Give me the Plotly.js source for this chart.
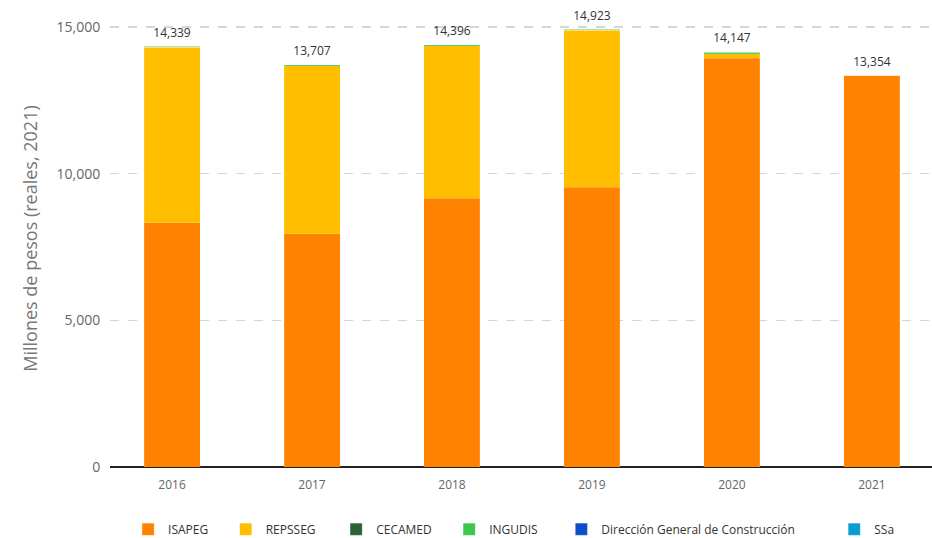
<!DOCTYPE html>
<html>
<head>
<meta charset="utf-8">
<script src="https://cdn.plot.ly/plotly-3.0.1.min.js"></script>
<style>html,body{margin:0;padding:0;background:#fff;}#chart{width:932px;height:538px;}</style>
</head>
<body>
<div id="chart"></div>
<script>
const years = ["2016", "2017", "2018", "2019", "2020", "2021"];
const isapeg = [8320, 7950, 9170, 9545, 13930, 13354];
const repsseg = [5985, 5725, 5195, 5345, 160, 0];
const cecamed = [0, 0, 0, 0, 0, 0];
const ingudis = [34, 32, 31, 33, 57, 0];
const dgc = [0, 0, 0, 0, 0, 0];
const ssa = [0, 0, 0, 0, 0, 0];
const totals = [14339, 13707, 14396, 14923, 14147, 13354];
const totalLabels = ["14,339", "13,707", "14,396", "14,923", "14,147", "13,354"];

const pad = n => "\u00a0".repeat(n);
const series = [
  {name: "ISAPEG", y: isapeg, color: "#ff8300", pad: 4},
  {name: "REPSSEG", y: repsseg, color: "#ffbe00", pad: 5},
  {name: "CECAMED", y: cecamed, color: "#2b6232", pad: 4},
  {name: "INGUDIS", y: ingudis, color: "#3cc84b", pad: 6},
  {name: "Dirección General de Construcción", y: dgc, color: "#0b4fc6", pad: 11},
  {name: "SSa", y: ssa, color: "#0b9ccf", pad: 0}
];

const traces = series.map(s => ({
  type: "bar", x: years, y: s.y, name: s.name + pad(s.pad),
  marker: {color: s.color, line: {color: "rgba(255,255,255,0.3)", width: 0.5}},
  hoverinfo: "x+y"
}));

traces.push({
  type: "scatter", mode: "markers+text", x: years, y: totals, text: totalLabels,
  textposition: "top center", marker: {size: 9, color: "rgba(0,0,0,0)"},
  textfont: {family: "Open Sans, sans-serif", size: 12, color: "#333"},
  showlegend: false, hoverinfo: "skip", cliponaxis: false
});

const layout = {
  width: 932, height: 538,
  margin: {l: 110, r: 0, t: 10, b: 71, autoexpand: false},
  paper_bgcolor: "#fff", plot_bgcolor: "#fff",
  barmode: "stack", bargap: 0.6,
  font: {family: "Open Sans, sans-serif", color: "#666"},
  xaxis: {
    type: "category", range: [-0.443, 5.429],
    showgrid: false, showline: false, zeroline: false,
    ticks: "outside", ticklen: 7, tickcolor: "rgba(0,0,0,0)",
    tickfont: {size: 12, color: "#666"}
  },
  yaxis: {
    range: [0, 15580], tickvals: [0, 5000, 10000, 15000], ticktext: ["0", "5,000", "10,000", "15,000"],
    showgrid: true, gridcolor: "#d6d6d6", griddash: "dash", gridwidth: 1.2,
    zeroline: true, zerolinecolor: "#222", zerolinewidth: 2,
    ticks: "outside", ticklen: 6, tickcolor: "rgba(0,0,0,0)",
    tickfont: {size: 14, color: "#666"},
    title: {text: "Millones de pesos (reales, 2021)", font: {size: 18, color: "#777"}, standoff: 14}
  },
  legend: {
    orientation: "h", traceorder: "normal", x: 0.491, xanchor: "center", y: -0.136, yanchor: "middle",
    font: {size: 12, color: "#333"}, itemclick: false
  },
  showlegend: true
};

Plotly.newPlot("chart", traces, layout, {displayModeBar: false, staticPlot: true});
</script>
</body>
</html>
